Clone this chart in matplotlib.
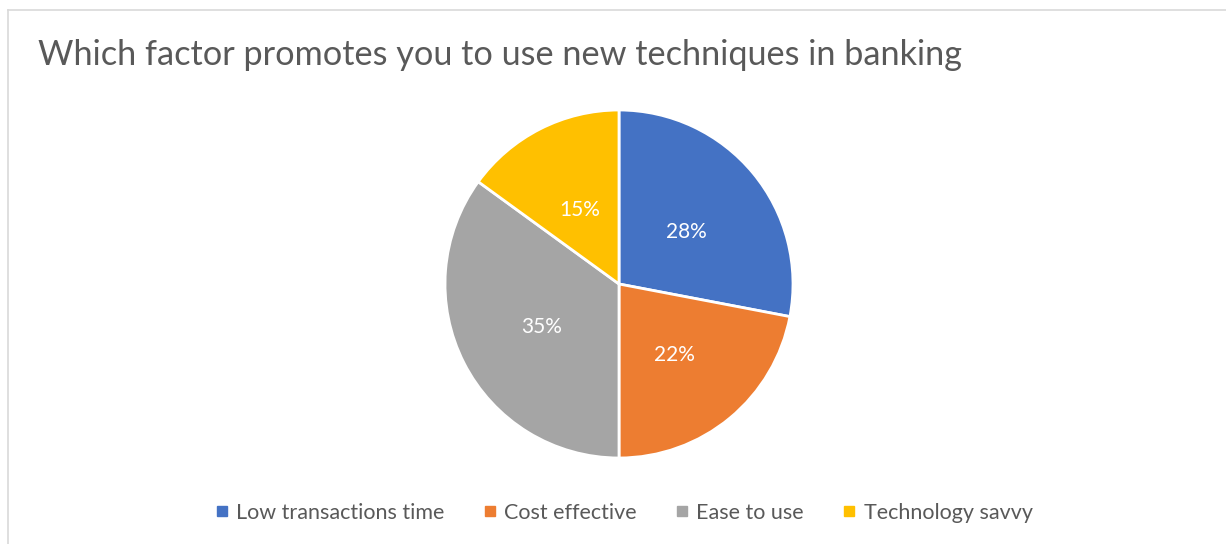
import matplotlib
matplotlib.use('Agg')
import matplotlib.pyplot as plt
from matplotlib.lines import Line2D

plt.rcParams['font.family'] = ['Lato', 'DejaVu Sans']

# Survey answers
factors = ['Low transactions time', 'Cost effective', 'Ease to use', 'Technology savvy']
shares = [28, 22, 35, 15]
colors = ['#4472C4', '#ED7D31', '#A5A5A5', '#FFC000']
title = 'Which factor promotes you to use new techniques in banking'

W, H = 1226, 544
fig = plt.figure(figsize=(W / 100, H / 100), dpi=100)
fig.patch.set_facecolor('white')

# chart frame (only top and left edge visible)
fig.add_artist(Line2D([8 / W, 8 / W], [0, 1 - 9.5 / H], transform=fig.transFigure,
                      color='#d9d9d9', lw=1.2))
fig.add_artist(Line2D([8 / W, 1], [1 - 9.5 / H, 1 - 9.5 / H], transform=fig.transFigure,
                      color='#d9d9d9', lw=1.2))

# pie area: centre (619, 284), radius 174 px
cx, cy, r = 619, 284, 174
ax = fig.add_axes([(cx - r) / W, 1 - (cy + r) / H, 2 * r / W, 2 * r / H])
wedges, texts, autotexts = ax.pie(
    shares, colors=colors, startangle=90, counterclock=False,
    autopct='%1.0f%%', pctdistance=0.5,
    wedgeprops=dict(edgecolor='white', linewidth=2.0),
    textprops=dict(color='white', fontsize=15))
for t in autotexts:
    x, y = t.get_position()
    t.set_position((x, y - 0.02))
ax.set_xlim(-1, 1)
ax.set_ylim(-1, 1)
ax.set_aspect('equal')
ax.axis('off')

fig.text(38 / W, 1 - 65 / H, title, fontsize=24.7, color='#595959',
         ha='left', va='baseline')

handles = [Line2D([], [], marker='s', linestyle='none', markersize=6.5,
                  markerfacecolor=c, markeredgecolor=c) for c in colors]
fig.legend(handles, factors, loc='center', bbox_to_anchor=(624 / W, 1 - 513 / H),
           ncol=4, frameon=False, fontsize=15.5, labelcolor='#595959',
           handlelength=0.6, handletextpad=0.37, columnspacing=1.8)

fig.savefig('out.png', dpi=100, facecolor='white')
